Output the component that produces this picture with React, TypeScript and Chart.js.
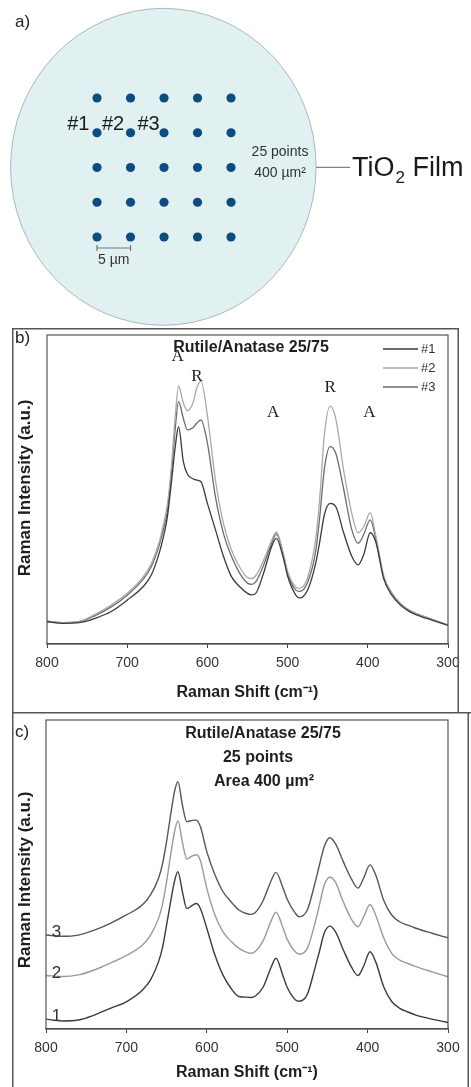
import React, { useEffect, useRef } from 'react';
import { Chart, registerables } from 'chart.js';

Chart.register(...registerables);

const SANS = '"Liberation Sans", Arial, Helvetica, sans-serif';
const SERIF = '"Liberation Serif", "Times New Roman", serif';

// ---------- Panel a: sampling grid on the TiO2 film (units: µm) ----------
const gridCols = [0, 5, 10, 15, 20];
const gridRows = [20, 15, 10, 5, 0];
const FILM_CX = 9.9;
const FILM_CY = 10.1;
const FILM_R = 22.8;
const spotLabels = ['#1', '#2', '#3'];
const spotLabelX = [-2.8, 2.4, 7.7];
const spotLabelY = 15.4;
const SCALE_BAR = [0, 5];

// ---------- Panels b & c: Raman spectra ----------
const ramanShift = [
  800, 780, 760, 740, 720, 700, 680, 670, 660, 655, 650, 645, 640, 636, 630, 625, 618, 613, 608, 600, 590,
  580, 570, 560, 550, 545, 540, 530, 520, 514, 505, 500, 490, 485, 475, 465, 460, 454, 447, 440, 430,
  420, 412, 405, 397, 390, 380, 370, 360, 350, 340, 320, 300,
];
const shiftTicks = [800, 700, 600, 500, 400, 300];

const spot1 = [
  7.2, 6.7, 6.9, 8.3, 10.5, 14.2, 18.6, 22.3, 29.5, 34.5, 41, 52, 64, 70.3, 59, 55, 53.5, 53, 52.5, 45.5, 37,
  28.4, 21.8, 18.6, 16.4, 15.9, 16.3, 22.9, 31.5, 34.2, 27.5, 22, 15.9, 14.9, 17.5, 26.1, 33, 42, 45.5, 44.5, 35.9,
  28.4, 25.6, 29, 36, 33, 21, 15.8, 12.8, 10.8, 9.5, 7.7, 6,
];
const spot2 = [
  7.4, 6.9, 7.3, 9.6, 12.6, 16.4, 21.8, 26, 33, 38.5, 45, 57, 74, 83.5, 78, 75.5, 78, 83, 85, 74, 53,
  39, 30.4, 25, 21.5, 21.2, 22, 27, 33.5, 36.3, 29, 23.5, 18.5, 18, 21.5, 34, 47, 68, 77, 73, 56,
  42.3, 36, 38, 42.5, 35, 22, 16.5, 13.3, 11.2, 9.9, 8, 6.2,
];
const spot3 = [
  7.4, 6.9, 7.2, 9.2, 12, 15.8, 21, 25, 32, 37, 43, 55, 70, 78.4, 73, 69.3, 70, 71.5, 72.5, 65, 47.7,
  35.8, 28.4, 23, 19.7, 19.3, 20, 25.5, 32.5, 35.6, 28.5, 23, 17.5, 17, 20, 30, 41, 57, 63.9, 61.8, 50,
  37, 32.6, 35.5, 40.2, 34, 21.5, 16.5, 13.3, 11.2, 9.9, 8, 6.2,
];
const bandLabels = ['A', 'R', 'A', 'R', 'A'];
const bandShift = [637, 613, 518, 447, 398];
const bandLevel = [93, 86.5, 75, 83, 75];

const avg1 = [
  3.2, 2.6, 2.9, 4.5, 6.7, 8.8, 12.6, 15.9, 21.8, 26.5, 33.7, 41.2, 48, 50.9, 44, 39, 40, 40.6, 39, 32.6, 24,
  17.5, 13.2, 10.5, 10.3, 10.2, 10.6, 13.5, 20, 22.9, 17, 13.5, 9.5, 9, 11.2, 20.2, 25, 31, 33.3, 31.5, 25.5,
  20, 17.3, 20.3, 25, 21.8, 13.7, 8.9, 6.7, 5.5, 4.5, 3.2, 2.1,
];
const avg2 = [
  17.3, 17, 17.5, 19.1, 21.3, 23.8, 27.2, 30.4, 35.8, 40.5, 47.7, 56.3, 64, 67.3, 60, 55, 56, 56.4, 54.5, 45.5, 37,
  31.5, 28.4, 26.1, 24.8, 24.5, 25, 28.5, 35, 37.8, 32.6, 29, 25, 24.2, 26.1, 34.7, 40, 46.5, 49.1, 47.5, 41,
  35.5, 33.1, 36.3, 40.3, 36.9, 29.5, 24.5, 22.3, 21.2, 20.2, 18.5, 16.9,
];
const avg3 = [
  30.4, 30, 30.4, 32, 34.2, 36.9, 40.2, 43.4, 48.8, 53.5, 60.7, 69.3, 77, 80, 72, 67.1, 67.5, 67.6, 65.5, 57.4, 50,
  44.5, 41.2, 38.5, 37.3, 37.1, 37.6, 41.5, 48, 50.7, 45.5, 42, 37.5, 36.3, 38.5, 47.7, 53, 59, 61.9, 60, 54,
  48.5, 45.6, 48.8, 53.1, 49.9, 41.7, 36.9, 34.7, 33.6, 32.6, 31, 29.5,
];
const avgLabels = ['1', '2', '3'];
const AVG_LABEL_SHIFT = 787;

// ---------- helpers ----------
const toXY = (vals: number[]) => ramanShift.map((w, i) => ({ x: w, y: vals[i] }));

const lineDs = (label: string, vals: number[], color: string, width: number) => ({
  label,
  data: toXY(vals),
  borderColor: color,
  backgroundColor: color,
  borderWidth: width,
  pointRadius: 0,
  pointHoverRadius: 0,
  fill: false,
  cubicInterpolationMode: 'monotone',
});

const xAxis = (height: number, titlePadBottom: number) => ({
  type: 'linear',
  reverse: true,
  min: 300,
  max: 800,
  afterBuildTicks: (s: any) => {
    s.ticks = shiftTicks.map((v) => ({ value: v }));
  },
  grid: { drawOnChartArea: false, drawTicks: true, tickLength: 4, tickWidth: 1, tickColor: '#444', color: '#444' },
  border: { display: true, color: '#444', width: 1.2 },
  ticks: { color: '#333', font: { family: SANS, size: 14 }, padding: 7, maxRotation: 0, autoSkip: false },
  title: {
    display: true,
    text: 'Raman Shift (cm⁻¹)',
    color: '#1e1e1e',
    font: { family: SANS, size: 16, weight: 'bold' },
    padding: { top: 0, bottom: titlePadBottom },
  },
  afterFit: (s: any) => {
    s.height = height;
  },
});

const drawYTitle = (ctx: CanvasRenderingContext2D, x: number, y: number) => {
  ctx.save();
  ctx.translate(x, y);
  ctx.rotate(-Math.PI / 2);
  ctx.font = `bold 17px ${SANS}`;
  ctx.fillStyle = '#1e1e1e';
  ctx.textAlign = 'center';
  ctx.textBaseline = 'middle';
  ctx.fillText('Raman Intensity (a.u.)', 0, 0);
  ctx.restore();
};

const drawPlotBox = (chart: any) => {
  const { ctx, chartArea: ca } = chart;
  ctx.save();
  ctx.strokeStyle = '#555';
  ctx.lineWidth = 1.2;
  ctx.strokeRect(ca.left, ca.top, ca.right - ca.left, ca.bottom - ca.top);
  ctx.restore();
};

// ---------- plugins ----------
const panelAPlugin = {
  id: 'panelA',
  beforeDatasetsDraw(chart: any) {
    const { ctx } = chart;
    const { x, y } = chart.scales;
    const cx = x.getPixelForValue(FILM_CX);
    const cy = y.getPixelForValue(FILM_CY);
    const rx = x.getPixelForValue(FILM_CX + FILM_R) - cx;
    const ry = cy - y.getPixelForValue(FILM_CY + FILM_R);
    ctx.save();
    ctx.beginPath();
    ctx.ellipse(cx, cy, rx, ry, 0, 0, Math.PI * 2);
    ctx.fillStyle = '#e1f1f2';
    ctx.fill();
    ctx.strokeStyle = '#a7b9ba';
    ctx.lineWidth = 1;
    ctx.stroke();
    ctx.restore();
  },
  afterDatasetsDraw(chart: any) {
    const { ctx } = chart;
    const { x, y } = chart.scales;
    const cy = y.getPixelForValue(FILM_CY);
    const edge = x.getPixelForValue(FILM_CX + FILM_R);
    ctx.save();
    // leader line
    ctx.strokeStyle = '#666';
    ctx.lineWidth = 1;
    ctx.beginPath();
    ctx.moveTo(edge, cy + 0.5);
    ctx.lineTo(350, cy + 0.5);
    ctx.stroke();
    // TiO2 Film
    ctx.fillStyle = '#1a1a1a';
    ctx.textBaseline = 'alphabetic';
    ctx.textAlign = 'left';
    let tx = 352;
    const base = cy + 9.5;
    ctx.font = `27px ${SANS}`;
    ctx.fillText('TiO', tx, base);
    tx += ctx.measureText('TiO').width + 1;
    ctx.font = `17px ${SANS}`;
    ctx.fillText('2', tx, base + 7);
    tx += ctx.measureText('2').width;
    ctx.font = `27px ${SANS}`;
    ctx.fillText(' Film', tx, base);

    // spot labels
    ctx.font = `20px ${SANS}`;
    ctx.textAlign = 'center';
    ctx.fillStyle = '#1a1a1a';
    spotLabels.forEach((t, i) => {
      ctx.fillText(t, x.getPixelForValue(spotLabelX[i]), y.getPixelForValue(spotLabelY));
    });

    // 25 points / area
    ctx.font = `14px ${SANS}`;
    ctx.fillStyle = '#333';
    ctx.textBaseline = 'middle';
    ctx.fillText('25 points', 280, 152);
    ctx.fillText('400 µm²', 280, 173);

    // scale bar
    const sx0 = x.getPixelForValue(SCALE_BAR[0]);
    const sx1 = x.getPixelForValue(SCALE_BAR[1]);
    const sy = y.getPixelForValue(gridRows[gridRows.length - 1]) + 11;
    ctx.strokeStyle = '#777';
    ctx.lineWidth = 1.2;
    ctx.beginPath();
    ctx.moveTo(sx0, sy);
    ctx.lineTo(sx1, sy);
    ctx.moveTo(sx0, sy - 3);
    ctx.lineTo(sx0, sy + 3);
    ctx.moveTo(sx1, sy - 3);
    ctx.lineTo(sx1, sy + 3);
    ctx.stroke();
    ctx.fillStyle = '#333';
    ctx.fillText('5 µm', (sx0 + sx1) / 2, sy + 12);

    // panel label
    ctx.textAlign = 'left';
    ctx.font = `17px ${SANS}`;
    ctx.fillStyle = '#222';
    ctx.fillText('a)', 15, 22);
    ctx.restore();
  },
};

const panelBPlugin = {
  id: 'panelB',
  afterDraw(chart: any) {
    const { ctx } = chart;
    const { x, y } = chart.scales;
    drawPlotBox(chart);
    ctx.save();
    // outer frame
    ctx.strokeStyle = '#555';
    ctx.lineWidth = 1.5;
    ctx.beginPath();
    ctx.moveTo(12.75, chart.height);
    ctx.lineTo(12.75, 0.75);
    ctx.lineTo(458.25, 0.75);
    ctx.lineTo(458.25, chart.height);
    ctx.stroke();

    ctx.fillStyle = '#222';
    ctx.font = `17px ${SANS}`;
    ctx.textAlign = 'left';
    ctx.textBaseline = 'middle';
    ctx.fillText('b)', 15, 10);

    ctx.font = `bold 16px ${SANS}`;
    ctx.textAlign = 'center';
    ctx.fillStyle = '#1e1e1e';
    ctx.fillText('Rutile/Anatase 25/75', 251, 20);

    drawYTitle(ctx, 25, 160);

    // band labels
    ctx.font = `17px ${SERIF}`;
    ctx.fillStyle = '#222';
    bandLabels.forEach((t, i) => {
      ctx.fillText(t, x.getPixelForValue(bandShift[i]), y.getPixelForValue(bandLevel[i]));
    });

    // legend
    ctx.font = `13px ${SANS}`;
    ctx.textAlign = 'left';
    chart.data.datasets.forEach((ds: any, i: number) => {
      const ly = 21 + i * 19;
      ctx.strokeStyle = ds.borderColor;
      ctx.lineWidth = 1.3;
      ctx.beginPath();
      ctx.moveTo(383, ly);
      ctx.lineTo(418, ly);
      ctx.stroke();
      ctx.fillStyle = '#333';
      ctx.fillText(ds.label, 421, ly);
    });
    ctx.restore();
  },
};

const panelCPlugin = {
  id: 'panelC',
  afterDraw(chart: any) {
    const { ctx } = chart;
    const { x, y } = chart.scales;
    drawPlotBox(chart);
    ctx.save();
    ctx.strokeStyle = '#555';
    ctx.lineWidth = 1.5;
    ctx.beginPath();
    ctx.moveTo(12, 0.75);
    ctx.lineTo(471, 0.75);
    ctx.moveTo(12.75, 0);
    ctx.lineTo(12.75, chart.height);
    ctx.moveTo(468.25, 0);
    ctx.lineTo(468.25, chart.height);
    ctx.stroke();

    ctx.fillStyle = '#222';
    ctx.font = `17px ${SANS}`;
    ctx.textAlign = 'left';
    ctx.textBaseline = 'middle';
    ctx.fillText('c)', 15, 20);

    ctx.font = `bold 16px ${SANS}`;
    ctx.textAlign = 'center';
    ctx.fillStyle = '#1e1e1e';
    ctx.fillText('Rutile/Anatase 25/75', 263, 22);
    ctx.fillText('25 points', 258, 46);
    ctx.fillText('Area 400 µm²', 264, 70);

    drawYTitle(ctx, 25, 168);

    // curve labels
    ctx.font = `17px ${SANS}`;
    ctx.fillStyle = '#333';
    ctx.textAlign = 'center';
    ctx.textBaseline = 'alphabetic';
    chart.data.datasets.forEach((ds: any, i: number) => {
      const v = ds.data[0].y;
      ctx.fillText(avgLabels[i], x.getPixelForValue(AVG_LABEL_SHIFT), y.getPixelForValue(v) + 2);
    });
    ctx.restore();
  },
};

const baseOptions = (padding: any, xa: any) => ({
  responsive: false,
  animation: false,
  devicePixelRatio: 1,
  events: [],
  layout: { padding, autoPadding: false },
  plugins: { legend: { display: false }, tooltip: { enabled: false }, title: { display: false } },
  scales: {
    x: xa,
    y: { type: 'linear', display: false, min: 0, max: 100 },
  },
});

export default function App() {
  const refA = useRef<HTMLCanvasElement>(null);
  const refB = useRef<HTMLCanvasElement>(null);
  const refC = useRef<HTMLCanvasElement>(null);

  useEffect(() => {
    Chart.defaults.font.family = SANS;
    const spots: { x: number; y: number }[] = [];
    gridRows.forEach((r) => gridCols.forEach((c) => spots.push({ x: c, y: r })));

    const chartA = new Chart(refA.current as HTMLCanvasElement, {
      type: 'scatter',
      data: {
        datasets: [
          {
            label: 'Measurement points',
            data: spots,
            pointRadius: 4.6,
            pointHoverRadius: 4.6,
            pointBackgroundColor: '#0d4c80',
            pointBorderWidth: 0,
          },
        ],
      },
      options: {
        responsive: false,
        animation: false,
        devicePixelRatio: 1,
        events: [],
        layout: { padding: 0, autoPadding: false },
        plugins: { legend: { display: false }, tooltip: { enabled: false } },
        scales: {
          x: { type: 'linear', display: false, min: -14.48, max: 55.82 },
          y: { type: 'linear', display: false, min: -13.09, max: 34.1 },
        },
      } as any,
      plugins: [panelAPlugin],
    });

    const chartB = new Chart(refB.current as HTMLCanvasElement, {
      type: 'line',
      data: {
        datasets: [
          lineDs('#1', spot1, '#3a3a3a', 1.3),
          lineDs('#2', spot2, '#a9a9a9', 1.3),
          lineDs('#3', spot3, '#6c6c6c', 1.3),
        ] as any,
      },
      options: baseOptions({ left: 47, right: 23, top: 7, bottom: 0 }, xAxis(68, 10)) as any,
      plugins: [panelBPlugin],
    });

    const chartC = new Chart(refC.current as HTMLCanvasElement, {
      type: 'line',
      data: {
        datasets: [
          lineDs('1', avg1, '#3c3c3c', 1.4),
          lineDs('2', avg2, '#9a9a9a', 1.4),
          lineDs('3', avg3, '#565656', 1.4),
        ] as any,
      },
      options: baseOptions({ left: 46, right: 23, top: 8, bottom: 0 }, xAxis(58, 5)) as any,
      plugins: [panelCPlugin],
    });

    return () => {
      chartA.destroy();
      chartB.destroy();
      chartC.destroy();
    };
  }, []);

  return (
    <div style={{ position: 'absolute', left: 0, top: 0, width: 471, height: 1087, background: '#fff', overflow: 'hidden' }}>
      <canvas ref={refA} width={471} height={328} style={{ position: 'absolute', left: 0, top: 0 }} />
      <canvas ref={refB} width={471} height={384} style={{ position: 'absolute', left: 0, top: 328 }} />
      <canvas ref={refC} width={471} height={375} style={{ position: 'absolute', left: 0, top: 712 }} />
    </div>
  );
}
